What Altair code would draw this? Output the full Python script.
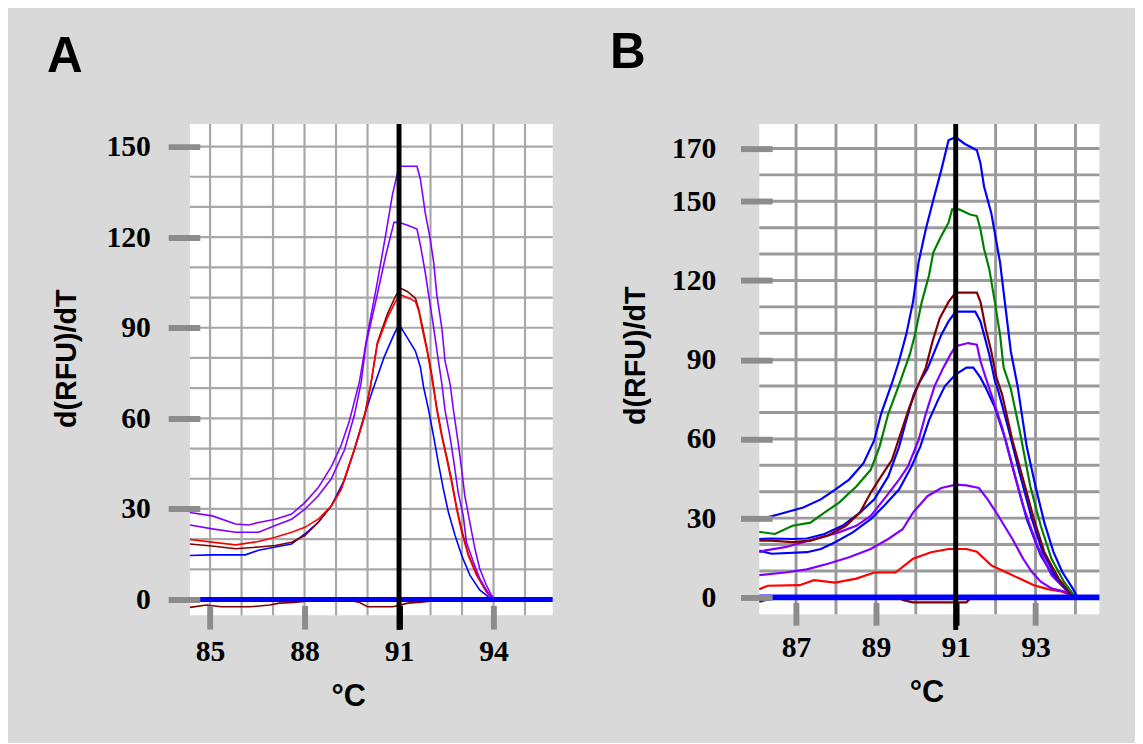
import altair as alt
import pandas as pd

# ---------------- colours ----------------
PURPLE = "#8000ff"
RED = "#ff0000"
DARKRED = "#800000"
BLUE = "#0000ff"
GREEN = "#008000"

# ---------------- panel A data (temperature °C, d(RFU)/dT) ----------------
A_PURPLE_HI_T = [84.36, 85.07, 85.81, 86.23, 86.54, 87.07, 87.59, 88.01, 88.43, 88.85, 89.16, 89.42, 89.74, 90.0, 90.31, 90.58, 90.79, 91.0, 91.57, 91.68, 91.83, 91.99, 92.1, 92.2, 92.36, 92.46, 92.62, 92.73, 92.88, 92.99, 93.09, 93.25, 93.41, 93.56, 93.77, 93.93, 94.05]
A_PURPLE_HI_V = [28.8, 27.7, 25.0, 24.7, 25.5, 26.6, 28.3, 32.1, 37.0, 44.0, 51.0, 59.0, 72.0, 88.0, 105.0, 121.0, 134.0, 143.5, 143.5, 139.1, 128.2, 119.4, 111.7, 100.9, 89.9, 79.0, 71.4, 62.6, 51.8, 42.9, 34.3, 25.5, 16.8, 10.3, 4.8, 1.5, 0.0]

A_PURPLE_LO_T = [84.36, 85.07, 85.81, 86.54, 87.07, 87.59, 88.01, 88.43, 88.85, 89.27, 89.58, 89.8, 89.95, 90.26, 90.58, 90.84, 91.0, 91.31, 91.57, 91.68, 91.83, 91.94, 92.1, 92.25, 92.36, 92.46, 92.62, 92.73, 92.88, 93.04, 93.14, 93.36, 93.56, 93.83, 94.0]
A_PURPLE_LO_V = [24.7, 23.4, 22.3, 22.3, 24.5, 26.6, 29.9, 34.3, 40.0, 49.6, 61.0, 72.0, 84.5, 98.7, 114.0, 124.9, 124.9, 123.8, 122.7, 117.3, 108.5, 100.9, 90.0, 79.0, 71.4, 62.7, 53.9, 46.3, 35.4, 27.7, 19.0, 12.4, 7.0, 2.1, 0.0]

A_RED_T = [84.36, 85.06, 85.81, 86.54, 87.07, 87.59, 88.01, 88.43, 88.85, 89.16, 89.58, 89.9, 90.1, 90.31, 90.63, 90.89, 91.05, 91.31, 91.52, 91.63, 91.73, 91.89, 92.04, 92.2, 92.36, 92.52, 92.67, 92.83, 92.99, 93.2, 93.46, 93.77, 93.97]
A_RED_V = [19.9, 19.0, 18.1, 19.2, 20.6, 22.3, 23.9, 26.6, 31.0, 36.5, 49.6, 60.5, 71.0, 84.5, 93.3, 98.7, 100.9, 99.8, 98.7, 95.4, 90.0, 82.3, 73.6, 62.7, 53.9, 46.3, 38.7, 29.9, 22.3, 14.6, 8.1, 2.6, 0.0]

A_DARKRED_T = [84.36, 85.06, 85.81, 86.54, 87.07, 87.59, 88.01, 88.43, 88.85, 89.16, 89.58, 89.9, 90.1, 90.31, 90.63, 90.89, 91.05, 91.26, 91.52, 91.63, 91.73, 91.89, 92.04, 92.2, 92.36, 92.52, 92.67, 92.83, 92.99, 93.2, 93.46, 93.77, 93.97]
A_DARKRED_V = [18.4, 17.7, 16.8, 17.4, 17.9, 19.0, 21.2, 25.5, 31.0, 36.5, 49.6, 60.5, 71.0, 85.0, 94.5, 100.5, 103.1, 102.0, 99.8, 96.0, 91.0, 83.0, 74.5, 63.5, 54.5, 47.0, 39.5, 30.5, 23.0, 15.0, 8.5, 3.0, 0.0]

A_BLUE_T = [84.36, 85.06, 86.12, 86.54, 87.07, 87.59, 88.01, 88.43, 88.85, 89.27, 89.58, 89.9, 90.16, 90.52, 90.84, 91.0, 91.26, 91.52, 91.68, 91.78, 91.94, 92.1, 92.25, 92.41, 92.57, 92.78, 92.99, 93.25, 93.56, 93.77, 93.9]
A_BLUE_V = [14.6, 14.8, 14.8, 16.3, 17.4, 18.4, 21.7, 25.5, 31.0, 39.7, 49.6, 61.0, 69.2, 80.1, 87.8, 91.1, 86.7, 82.3, 76.9, 70.3, 62.7, 53.9, 45.2, 36.5, 28.8, 21.2, 14.6, 8.1, 3.2, 1.5, 0.0]

A_NEG_T = [84.36, 84.9, 85.35, 86.28, 86.9, 87.2, 87.67, 88.2, 89.5, 89.75, 90.0, 90.8, 91.28, 91.7, 92.2]
A_NEG_V = [-2.6, -1.8, -2.4, -2.4, -1.8, -1.2, -1.0, -0.4, -0.4, -1.0, -2.4, -2.4, -1.2, -0.9, -0.3]

A_X_DOMAIN = [84.36, 95.88]
A_Y_DOMAIN = [-5.2, 157.5]
A_X_TICKS = [85, 88, 91, 94]
A_Y_TICKS = [0, 30, 60, 90, 120, 150]
A_X_GRID = [85, 86, 87, 88, 89, 90, 91, 92, 93, 94, 95]
A_Y_GRID = [10, 20, 30, 40, 50, 60, 70, 80, 90, 100, 110, 120, 130, 140, 150]
A_MARKER_T = 91
A_MARKER_SPAN = [157.5, -10.0]

# ---------------- panel B data ----------------
B_BLUE_HI_T = [86.08, 86.55, 87.18, 87.62, 87.98, 88.33, 88.69, 88.96, 89.13, 89.4, 89.58, 89.76, 89.93, 90.07, 90.25, 90.42, 90.64, 90.82, 91.0, 91.22, 91.53, 91.62, 91.71, 91.89, 92.11, 92.25, 92.38, 92.55, 92.78, 93.0, 93.22, 93.45, 93.67, 93.93, 94.05]
B_BLUE_HI_V = [29.6, 31.4, 34.0, 37.1, 40.8, 44.6, 50.8, 59.5, 69.5, 81.0, 89.5, 99.5, 111.9, 126.9, 139.4, 149.4, 161.9, 173.1, 174.3, 171.8, 169.3, 164.4, 155.6, 145.6, 126.9, 109.4, 93.2, 80.0, 57.0, 42.0, 28.3, 17.1, 9.6, 3.4, 0.0]

B_GREEN_T = [86.08, 86.47, 86.91, 87.36, 87.71, 88.07, 88.51, 88.87, 89.09, 89.31, 89.58, 89.85, 89.98, 90.15, 90.33, 90.44, 90.64, 90.82, 90.91, 91.09, 91.36, 91.53, 91.62, 91.71, 91.84, 91.98, 92.11, 92.2, 92.38, 92.6, 92.87, 93.13, 93.4, 93.71, 94.0]
B_GREEN_V = [24.8, 24.0, 27.1, 28.3, 32.1, 35.8, 42.0, 48.3, 57.0, 69.5, 80.5, 92.0, 99.5, 111.9, 121.9, 130.7, 136.9, 141.9, 146.9, 146.9, 145.0, 144.4, 139.4, 131.9, 124.4, 111.9, 99.5, 87.0, 79.0, 63.3, 42.0, 27.1, 14.6, 5.9, 0.0]

B_DARKRED_T = [86.08, 86.38, 86.91, 87.36, 87.8, 88.25, 88.6, 88.87, 89.13, 89.4, 89.62, 89.84, 90.05, 90.25, 90.42, 90.6, 90.82, 91.0, 91.53, 91.62, 91.75, 91.89, 92.02, 92.16, 92.42, 92.69, 92.96, 93.22, 93.58, 93.95]
B_DARKRED_V = [21.5, 21.5, 20.9, 21.5, 23.4, 27.1, 32.1, 39.6, 45.8, 52.0, 62.0, 72.0, 80.0, 87.0, 97.0, 105.7, 111.9, 115.4, 115.4, 111.9, 101.9, 93.2, 83.2, 77.0, 59.5, 44.6, 29.6, 17.1, 7.1, 0.0]

B_BLUE_MID_T = [86.08, 86.38, 86.91, 87.27, 87.71, 88.16, 88.6, 88.96, 89.31, 89.58, 89.76, 89.95, 90.11, 90.29, 90.44, 90.64, 90.82, 91.0, 91.49, 91.62, 91.71, 91.84, 91.98, 92.07, 92.33, 92.6, 92.91, 93.18, 93.54, 93.95]
B_BLUE_MID_V = [22.1, 22.3, 22.1, 22.3, 24.0, 27.1, 32.1, 37.1, 45.8, 57.0, 67.0, 77.0, 82.0, 86.5, 92.0, 99.5, 104.5, 108.2, 108.2, 104.5, 99.5, 92.0, 82.0, 78.0, 63.3, 47.1, 29.6, 17.1, 7.1, 0.0]

B_PURPLE_HI_T = [86.08, 86.2, 86.73, 87.18, 87.62, 88.07, 88.51, 88.87, 89.2, 89.58, 89.8, 90.07, 90.25, 90.47, 90.69, 90.87, 91.0, 91.31, 91.53, 91.62, 91.75, 91.89, 92.16, 92.42, 92.69, 93.04, 93.4, 93.95]
B_PURPLE_HI_V = [17.1, 17.7, 19.0, 20.9, 22.7, 24.6, 27.1, 30.8, 37.1, 44.6, 49.5, 59.5, 69.5, 80.0, 87.0, 92.0, 95.1, 96.3, 95.7, 89.5, 83.2, 77.0, 64.5, 49.5, 34.6, 19.6, 8.4, 0.0]

B_BLUE_LO_T = [86.08, 86.38, 87.27, 87.62, 87.98, 88.42, 88.87, 89.2, 89.58, 89.89, 90.11, 90.33, 90.55, 90.73, 91.0, 91.27, 91.44, 91.62, 91.75, 91.98, 92.25, 92.51, 92.78, 93.13, 93.49, 93.95]
B_BLUE_LO_V = [17.7, 16.5, 17.1, 18.3, 20.9, 24.6, 29.6, 34.6, 40.8, 49.5, 57.0, 67.0, 74.5, 80.0, 84.5, 87.0, 87.0, 83.2, 79.5, 72.0, 59.5, 44.6, 29.6, 15.8, 7.1, 0.0]

B_PURPLE_LO_T = [86.08, 86.73, 87.27, 87.8, 88.33, 88.87, 89.31, 89.67, 89.93, 90.29, 90.64, 91.0, 91.27, 91.58, 91.8, 92.07, 92.42, 92.69, 92.91, 93.13, 93.4, 93.75, 94.0]
B_PURPLE_LO_V = [8.4, 9.4, 10.6, 12.7, 15.2, 18.3, 22.1, 25.8, 32.1, 38.3, 41.4, 42.7, 42.4, 41.4, 37.1, 30.8, 22.1, 14.6, 9.6, 5.9, 3.4, 2.1, 0.0]

B_RED_T = [86.08, 86.29, 87.09, 87.45, 87.98, 88.51, 88.96, 89.49, 89.93, 90.38, 90.82, 91.27, 91.53, 91.89, 92.25, 92.6, 92.96, 93.31, 93.67, 94.0]
B_RED_V = [3.1, 4.4, 4.6, 6.5, 5.6, 7.1, 9.4, 9.4, 14.6, 17.1, 18.3, 18.3, 17.3, 12.1, 9.6, 7.1, 4.6, 3.1, 2.1, 0.0]

B_NEG_T = [86.08, 86.38, 87.6, 88.5, 89.6, 89.67, 89.93, 91.27, 91.35, 91.6, 92.0]
B_NEG_V = [-1.6, -0.6, -0.6, -0.3, -0.3, -1.0, -1.9, -1.9, -0.6, -0.6, -0.2]

B_X_DOMAIN = [86.08, 94.6]
B_Y_DOMAIN = [-6.4, 179.3]
B_X_TICKS = [87, 89, 91, 93]
B_Y_TICKS = [0, 30, 60, 90, 120, 150, 170]
B_X_GRID = [87, 88, 89, 90, 91, 92, 93, 94]
B_Y_GRID = [10, 20, 30, 40, 50, 60, 70, 80, 90, 100, 110, 120, 130, 140, 150, 160, 170]
B_MARKER_T = 91
B_MARKER_SPAN = [179.3, -12.4]

ZERO = [0]

A_SERIES = [
    ("A neg", A_NEG_T, A_NEG_V, DARKRED),
    ("A blue", A_BLUE_T, A_BLUE_V, BLUE),
    ("A darkred", A_DARKRED_T, A_DARKRED_V, DARKRED),
    ("A red", A_RED_T, A_RED_V, RED),
    ("A purple lo", A_PURPLE_LO_T, A_PURPLE_LO_V, PURPLE),
    ("A purple hi", A_PURPLE_HI_T, A_PURPLE_HI_V, PURPLE),
]
B_SERIES = [
    ("B neg", B_NEG_T, B_NEG_V, DARKRED),
    ("B red", B_RED_T, B_RED_V, RED),
    ("B purple lo", B_PURPLE_LO_T, B_PURPLE_LO_V, PURPLE),
    ("B blue lo", B_BLUE_LO_T, B_BLUE_LO_V, BLUE),
    ("B purple hi", B_PURPLE_HI_T, B_PURPLE_HI_V, PURPLE),
    ("B blue mid", B_BLUE_MID_T, B_BLUE_MID_V, BLUE),
    ("B darkred", B_DARKRED_T, B_DARKRED_V, DARKRED),
    ("B green", B_GREEN_T, B_GREEN_V, GREEN),
    ("B blue hi", B_BLUE_HI_T, B_BLUE_HI_V, BLUE),
]

TICK_GRAY = "#8c8c8c"


def tick_color():
    return {"condition": {"test": "datum.value === 91", "value": "black"}, "value": TICK_GRAY}


def make_panel(series, x_dom, y_dom, x_ticks, y_ticks, x_grid, y_grid, marker_t, marker_span,
               width, height, letter, letter_dx, letter_offset, line_w, grid_w, grid_color, zero_w,
               y_offset, y_label_pad, y_title_pad, y_title_y,
               x_offset, x_tick_size, x_title_x):
    xs = alt.Scale(domain=x_dom, nice=False, zero=False)
    ys = alt.Scale(domain=y_dom, nice=False, zero=False)

    frames = []
    for name, t, v, _c in series:
        frames.append(pd.DataFrame({"T": t, "v": v, "series": name, "i": list(range(len(t)))}))
    curves_df = pd.concat(frames, ignore_index=True)

    x_axis = alt.Axis(
        values=x_ticks, offset=x_offset, tickSize=x_tick_size, tickWidth=6, tickColor=tick_color(),
        domain=False, grid=False, labelFont="Liberation Serif", labelFontWeight="bold",
        labelFontSize=30, labelColor="black", labelPadding=8, labelFlush=False, labelOverlap=False,
        title="°C", titleFont="Liberation Sans", titleFontWeight="bold", titleFontSize=31,
        titleColor="black", titlePadding=15, titleX=x_title_x, zindex=1,
    )
    y_axis = alt.Axis(
        values=y_ticks, offset=y_offset, tickSize=32, tickWidth=6, tickColor=TICK_GRAY,
        domain=False, grid=False, labelFont="Liberation Serif", labelFontWeight="bold",
        labelFontSize=30, labelColor="black", labelPadding=y_label_pad, labelFlush=False,
        labelOverlap=False, labelAlign="right",
        title="d(RFU)/dT", titleFont="Liberation Sans", titleFontWeight="bold",
        titleFontSize=29, titleColor="black", titlePadding=y_title_pad, titleY=y_title_y, zindex=1,
    )

    def X(field):
        return alt.X(field, scale=xs, axis=x_axis, title="°C")

    def Y(field):
        return alt.Y(field, scale=ys, axis=y_axis, title="d(RFU)/dT")

    vgrid = alt.Chart(pd.DataFrame({"T": x_grid})).mark_rule(
        color=grid_color, strokeWidth=grid_w
    ).encode(x=X("T:Q"))
    hgrid = alt.Chart(pd.DataFrame({"v": y_grid})).mark_rule(
        color=grid_color, strokeWidth=grid_w
    ).encode(y=Y("v:Q"))

    curves = alt.Chart(curves_df).mark_line(strokeWidth=line_w, interpolate="linear").encode(
        x=X("T:Q"),
        y=Y("v:Q"),
        color=alt.Color("series:N", scale=alt.Scale(domain=[s[0] for s in series],
                                                   range=[s[3] for s in series]), legend=None),
        detail="series:N",
        order="i:Q",
    )

    zero = alt.Chart(pd.DataFrame({"v": ZERO})).mark_rule(color=BLUE, strokeWidth=zero_w).encode(
        y=Y("v:Q")
    )

    marker = alt.Chart(pd.DataFrame({"T": [marker_t], "top": [marker_span[0]], "bot": [marker_span[1]]})
                       ).mark_rule(color="black", strokeWidth=5).encode(
        x=X("T:Q"),
        y=Y("top:Q"),
        y2="bot:Q",
    )

    return alt.layer(vgrid, hgrid, curves, zero, marker).properties(
        width=width, height=height,
        title=alt.TitleParams(letter, anchor="start", frame="bounds", fontSize=50,
                              font="Liberation Sans", fontWeight="bold", color="black",
                              offset=letter_offset, baseline="alphabetic", dx=letter_dx),
    )


panel_a = make_panel(A_SERIES, A_X_DOMAIN, A_Y_DOMAIN, A_X_TICKS, A_Y_TICKS, A_X_GRID, A_Y_GRID,
                     A_MARKER_T, A_MARKER_SPAN, 367, 497, "A", -5.5, 0, 1.6, 2.2, "#a8a8a8", 5,
                     -10, 18, 25, 237, -10, 24, 160)
panel_b = make_panel(B_SERIES, B_X_DOMAIN, B_Y_DOMAIN, B_X_TICKS, B_Y_TICKS, B_X_GRID, B_Y_GRID,
                     B_MARKER_T, B_MARKER_SPAN, 344, 496, "B", -12, 4, 2.2, 3, "#9a9a9a", 6,
                     -13, 25, 21, 234, -12, 23, 169)

chart = alt.hconcat(panel_a, panel_b, spacing=55).resolve_scale(
    x="independent", y="independent", color="independent"
).properties(
    padding={"left": 39, "top": 16, "right": 33, "bottom": 28}
).configure(
    background="#d9d9d9"
).configure_view(
    fill="white", strokeWidth=0
)

chart.save("out.html", embed_options={"renderer": "svg", "actions": False})
